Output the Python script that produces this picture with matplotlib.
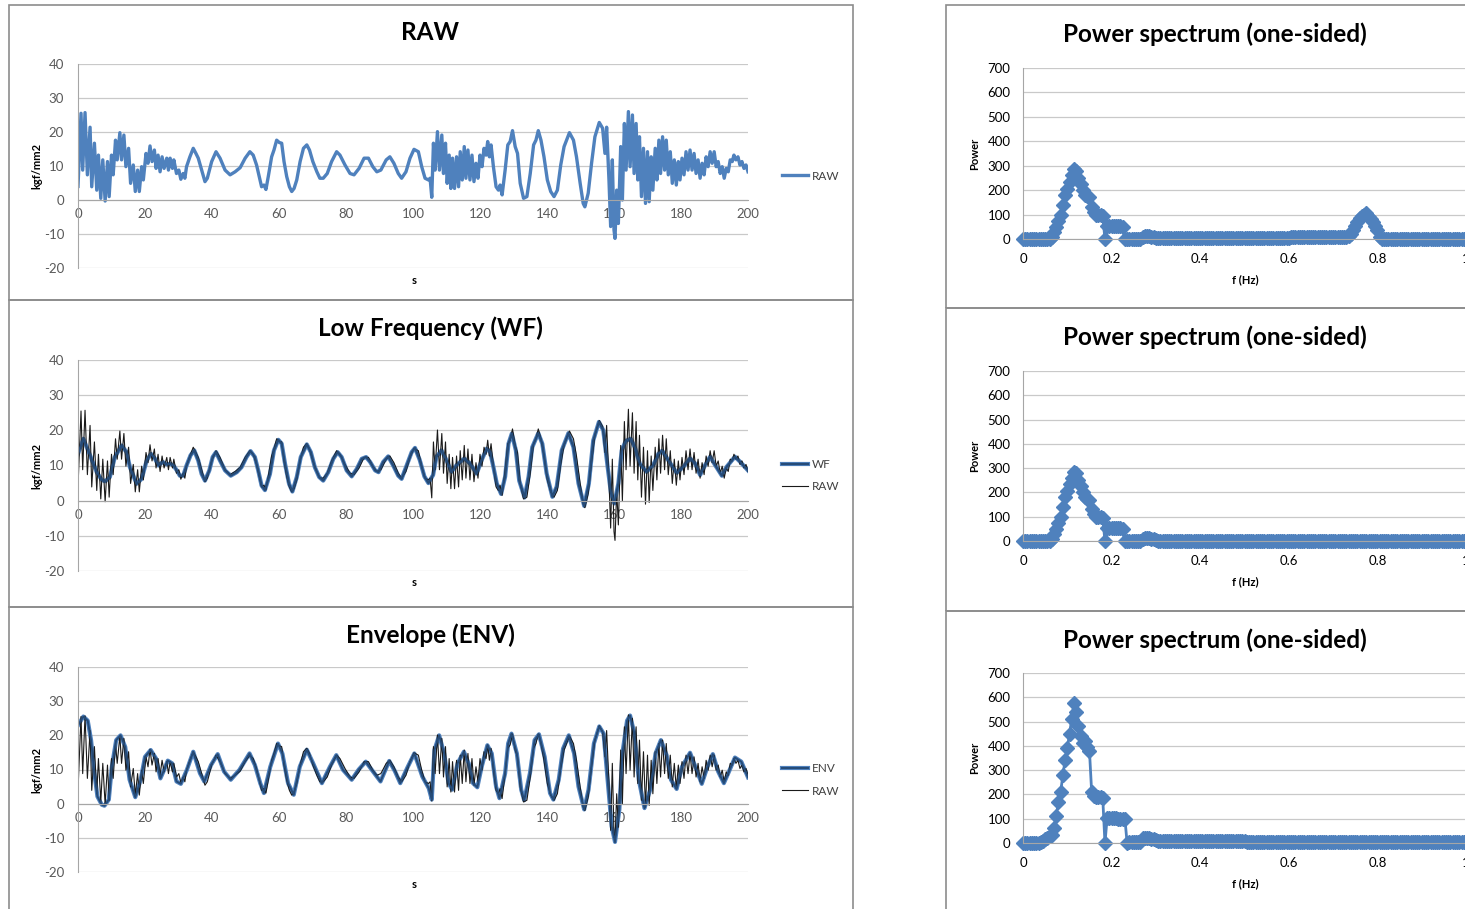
import numpy as np
import matplotlib.pyplot as plt
from matplotlib.patches import Rectangle

plt.rcParams['font.family'] = ['Lato', 'DejaVu Sans']
plt.rcParams['axes.unicode_minus'] = False

W, H = 1465, 909

# ---- time series (s, kgf/mm2) ----
raw_t = [0, 0.9, 1.4, 2.1, 2.8, 3.6, 4.1, 4.9, 5.6, 6.1, 6.8, 7.4, 8.1, 8.8, 9.3, 10, 10.5, 11.2, 11.7,
         12.5, 13, 13.7, 14.3, 15.1, 15.7, 16.5, 17.1, 17.8, 18.3, 19, 19.5, 20.3, 20.9, 21.5, 22.1,
         22.8, 23.3, 23.9, 24.5, 25.1, 25.7, 26.5, 27, 27.5, 28.2, 28.6, 29.4, 30.1, 30.7, 31.4, 31.9,
         32.4, 33.4, 34.4, 35.2, 35.9, 36.9, 37.9, 38.6, 39.9, 41.2, 42.4, 43.9, 45.4, 46.9, 48.4,
         49.9, 51.3, 52.3, 53.3, 54.1, 54.8, 55.5, 56.1, 56.8, 57.8, 58.5, 59.3, 60.1, 60.8, 61.5,
         62.3, 63.1, 63.8, 64.5, 65.3, 66.3, 67.3, 68.3, 69.1, 70.1, 71.3, 72.2, 73.2, 74.4, 75.7,
         77.2, 78.2, 79.7, 81.2, 82.4, 83.9, 85.4, 86.7, 88, 89.2, 90.4, 92, 93.1, 94.3, 95.6, 96.6,
         97.9, 99.1, 100.3, 101.6, 102.6, 103.6, 104.6, 105.1, 105.6, 106.1, 106.6, 107.3, 107.9,
         108.6, 109.1, 109.7, 110.2, 110.8, 111.3, 111.8, 112.4, 113, 113.6, 114.1, 114.7, 115.3,
         115.8, 116.4, 117, 117.6, 118.2, 118.8, 119.4, 120, 120.6, 121.2, 121.8, 122.3, 122.8,
         123.3, 124, 124.8, 125.5, 126, 126.6, 127.5, 128.3, 129, 129.7, 130.5, 131.2, 132, 133,
         134, 135, 136, 136.7, 137.4, 138.2, 139.1, 140.1, 141.1, 142.1, 143.1, 144.1, 145.1, 146.7,
         147.9, 148.8, 149.9, 150.8, 151.3, 152.3, 153.3, 154.3, 155.6, 156.6, 157.3, 157.8, 158.5,
         159, 159.5, 160, 160.3, 160.8, 161.3, 162, 162.5, 163.1, 163.6, 164.3, 164.8, 165.5, 166,
         166.6, 167.1, 167.6, 168.2, 168.8, 169.4, 170, 170.5, 171.1, 171.6, 172.3, 172.8, 173.4,
         173.9, 174.5, 175.1, 175.6, 176.2, 176.8, 177.4, 178, 178.6, 179.2, 179.7, 180.3, 180.9,
         181.5, 182.1, 182.7, 183.3, 183.9, 184.5, 185.1, 185.7, 186.3, 186.9, 187.5, 188.1, 188.7,
         189.3, 189.9, 190.5, 191.1, 191.7, 192.3, 192.9, 193.5, 194.1, 194.7, 195.3, 195.8, 196.4,
         197, 197.6, 198.2, 198.8, 199.4, 200]
raw_v = [4, 25.5, 8.8, 25.7, 7.4, 21.4, 3.9, 16.7, 2.9, 13.2, 0.5, 11.8, -0.3, 11.3, 1, 13.2, 7.4, 17.6, 11.8,
         19.8, 11.8, 19.1, 9.8, 15.2, 4.9, 10.3, 2.5, 8.8, 2.5, 9.8, 5.9, 13.7, 10.8, 15.9, 11.3,
         14.7, 9.3, 13.2, 8.3, 12.7, 9.3, 12.3, 8.8, 12.3, 9.3, 11.8, 7.8, 8.8, 6.1, 7.8, 6.4,
         9.8, 12.7, 15.2, 13.7, 12.3, 8.8, 5.4, 6.4, 11.3, 14.2, 12.3, 8.8, 7.4, 8.3, 9.5,
         12.3, 14.2, 13.2, 10.3, 6.9, 3.9, 4.4, 3.1, 6.9, 12.7, 14.7, 17.6, 16.9, 16.7, 11.3,
         6.9, 3.9, 2.5, 3.4, 5.9, 11.3, 15.2, 16.2, 14.7, 11.3, 8.3, 6.4, 6.4, 7.8, 11.3,
         14.2, 13.2, 10.3, 7.8, 7.4, 9.3, 12.3, 12.3, 9.8, 8.3, 8.8, 11.8, 12.7, 10.8, 7.8, 6.4,
         8.3, 12.3, 14.9, 14.2, 9.8, 6.4, 5.9, 6.4, 0.8, 16.7, 8.8, 20.1, 8.8,
         19.1, 7.8, 16.7, 4.9, 13.2, 3.4, 12.3, 3.4, 12.7, 3.9, 14.2, 5.9, 15.7,
         6.4, 14.7, 5.9, 13.2, 5.4, 10.8, 6.4, 13.2, 9.8, 15.2, 13.2, 17.2, 12.7,
         16.2, 9.8, 3.9, 2.9, 4.4, 1.5, 8.8, 16.2, 17.2, 20.4, 15.7, 13.7, 4.9, 0.5,
         1, 7.8, 16.2, 17.6, 20.4, 17.6, 12.7, 5.9, 2.5, 1, 2.9, 10.3, 15.7, 19.8,
         17.6, 12.7, 4.9, -1, -2, 2, 10.8, 18.6, 22.8, 21.1, 13.7, 21.4, 5.9,
         -7.8, 11.8, -8.8, -11.3, 2.9, -6.9, 15.7, 0, 22.5, 8.8, 26, 9.8, 25, 7.8,
         22.5, 5.9, 18.6, 1, 15.2, -1, 14.2, -0.5, 12.7, 2.9, 15.2, 5.9, 17.6,
         7.8, 18.6, 8.8, 17.6, 7.4, 14.2, 4.9, 11.8, 4.4, 11.3, 5.9, 12.3, 7.4,
         14.2, 8.8, 14.7, 8.8, 13.7, 7.8, 11.8, 6.4, 10.8, 7.4, 12.7, 9.8, 14.2,
         10.8, 14.2, 9.8, 11.3, 7.8, 9.8, 6.4, 9.3, 8.3, 11.8, 11.3, 13.2, 11.8,
         12.7, 10.3, 11.3, 9.3, 10.3, 8.3]

wf_t = [0, 1.6, 3.6, 5.6, 7.1, 8.1, 9.5, 11, 13, 14.5, 15.5, 17.5, 19, 20.5, 21.8, 23, 24, 25.3, 26.5,
        27.5, 28.5, 29.5, 30.4, 31.4, 32.4, 33.6, 34.7, 35.9, 36.9, 37.9, 39.2, 40.2, 41.2, 42.4, 43.9,
        45.6, 47.4, 48.8, 50.3, 51.5, 52.8, 53.8, 54.8, 55.8, 57.3, 58.5, 59.8, 60.8, 61.8, 63, 64,
        65.3, 66.5, 68.3, 69.5, 70.7, 72, 73.2, 74.7, 76.2, 77.5, 78.7, 80.2, 81.7, 83.2, 84.7, 86,
        87.2, 88.7, 89.7, 91.1, 92.6, 94.1, 95.6, 96.6, 98.1, 99.6, 100.6, 102, 103.4, 104.6, 106,
        107, 108.5, 110, 111.5, 113, 115.3, 117, 119, 120.7, 122, 123, 124, 125, 126.3, 127.5, 128.5,
        129.5, 130.7, 131.7, 133.3, 134.5, 135.6, 137.4, 138.6, 139.9, 141.6, 142.9, 144.4, 146.4,
        147.9, 149.4, 151.1, 152.5, 153.8, 155.5, 156.8, 158.1, 159.1, 160.1, 161.3, 162.3, 163.5,
        165, 166.2, 167.7, 169.7, 171.7, 173.3, 174.4, 176.2, 178.7, 180.7, 182.7, 184.2, 185.7,
        187.2, 188.7, 190.2, 192.2, 193.6, 196.1, 197.6, 200]
wf_v = [13.3, 17.6, 12.9, 8.1, 5.9, 5.5, 6.7, 12.4, 15.7, 13.8, 9.5, 4.8, 6.2, 11.4, 13.3, 11.9, 10, 11, 10.3,
        10.5, 10, 8.6, 7.1, 7.1, 10, 12.9, 14.3, 11.4, 7.6, 5.7, 8.6, 12.4, 13.8, 11.4, 8.6,
        7.1, 8.1, 9.5, 12.4, 14.1, 12.4, 8.6, 4.3, 3, 7.6, 14.3, 17.3, 16.2, 10.5, 4.8, 2.6,
        6.7, 12.4, 16, 13.8, 9.5, 6.7, 5.7, 8.1, 11.9, 13.8, 12.4, 8.6, 6.9, 9, 11.9, 12.4,
        11, 8.6, 8.1, 11, 12.6, 10, 7.1, 6.2, 10, 13.8, 15, 11.6, 6.9, 5, 7.3,
        12.5, 14.3, 11.5, 8.2, 10.1, 12, 10.6, 7.7, 12, 14.8, 13.9, 9.6, 4.9, 1.9, 6.8, 16.2,
        19.1, 14.3, 5.7, 0.9, 6.8, 15.2, 19.2, 16.2, 7.7, 1.1, 4, 14.3, 19.2,
        15.2, 4.9, -1.5, 4.9, 17.1, 22.4, 20, 9.6, 2.1, -0.8, 4.9, 14.3, 17,
        17.6, 15.2, 10.5, 8.2, 10.1, 13.4, 14.2, 11.5, 7.9, 9.6, 12, 10.6, 7.3,
        10.1, 12.5, 10.1, 7.1, 9.6, 12.5, 11.1, 8.6]

env_t = [0, 1.6, 2.9, 3.9, 4.9, 5.8, 7.1, 7.9, 9.2, 10.1, 11.4, 12.7, 14.1, 15.4, 17.1, 18.7, 20, 21.7,
         23.3, 24.6, 25.5, 26.8, 28.1, 29.4, 30.7, 32.5, 34.4, 36.4, 37.7, 39.7, 41.7, 43.6, 45.6, 48.2,
         51.2, 52.8, 54.4, 55.5, 57.4, 59.7, 61, 62.7, 64.4, 66.2, 68.3, 70.2, 72.8, 75.2, 77.1, 79.1,
         81.7, 83.8, 85.9, 88, 90.3, 92.9, 94.6, 96.2, 98.3, 100.4, 102.8, 104.7, 105.6, 106.4, 107.8,
         109.3, 110.6, 111.7, 113.3, 115.2, 116.6, 117.9, 119.2, 120.5, 122.2, 123.5, 124.8, 125.8,
         127.5, 128.4, 129.4, 131, 132.3, 133.2, 134.9, 136.3, 137.6, 139.3, 140.9, 141.9, 143.5,
         144.8, 146.5, 148.1, 149.4, 151.1, 152.4, 154, 155.6, 156.9, 158.2, 159.3, 160.3, 161.6,
         162.5, 163.9, 164.8, 166.1, 167.4, 169.1, 170.8, 172.4, 174, 175.7, 177, 178.7, 180.3, 182.7,
         184.3, 186.2, 187.9, 189.5, 191.1, 192.8, 194.1, 196.1, 198, 200]
env_v = [22.9, 25.5, 24.3, 18.6, 8.9, 2.1, -0.3, -0.6, 1.2, 10.8, 18.6, 20, 16.6, 7, 1.9, 7, 13.7, 15.7,
         13.2, 7.4, 9.4, 12.6, 11.8, 6.5, 5.8, 9.9, 15.2, 8.9, 6.5, 11.3, 14.5, 9.4, 7, 9.9,
         14.7, 11.3, 6, 3.1, 10.8, 17.6, 14.7, 6, 2.6, 10.8, 15.8, 11.8, 6, 10.8, 14.2, 9.9,
         7, 10, 12.3, 9.5, 6.5, 12.5, 9.5, 6, 10.5, 14.7, 7.9, 4.5, 1.2, 15.7, 20,
         14.7, 6, 4.1, 11.8, 15.2, 11.8, 6, 4.8, 10.8, 17.1, 14.7, 5, 1.6,
         8.9, 17.6, 20.5, 14.7, 4.1, 1, 8.9, 18.6, 20.3, 13.7, 3.1, 1.2, 7,
         16.1, 20, 14.7, 5, -1.7, 4.1, 17.6, 22.6, 20.5, 6, -6.6, -11.2, -1.7,
         14.7, 24.3, 25.8, 20.5, 7, -1.3, 4.1, 14.7, 18.6, 14.2, 7, 4.3, 10.8, 14.9,
         10.8, 5.8, 10.8, 14.5, 9.4, 6, 8.9, 13.5, 12.3, 7.7]

# ---- one-sided power spectra, 0.005 Hz bins from 0 to 1.05 Hz ----
freq = np.round(np.arange(211) * 0.005, 3)
low_band = ([0] * 13 +
            [10, 30, 50, 75, 100, 140, 180, 205, 235, 260, 285, 280, 250, 225, 200, 180, 175,
             170, 130, 110, 100, 100, 100, 95, 0, 55, 55, 55, 55, 55, 55, 55, 50, 0] +
            [2] * 7 + [10, 12, 12, 12, 10, 8, 5])
power_raw = (low_band + [3] * 60 + [7] * 26 +
             [12, 20, 35, 55, 70, 85, 95, 100, 105, 90, 80, 70, 55, 35, 10] + [1] * 49)
power_wf = low_band + [2] * 150
power_env = ([0] * 8 +
             [5, 10, 15, 20, 30, 35, 60, 110, 170, 210, 280, 340, 390, 450, 510, 575, 540, 480,
              440, 410, 420, 395, 380, 210, 195, 190, 190, 190, 185, 0, 105, 105, 105, 105, 105,
              100, 100, 100, 100, 0] +
             [5] * 6 + [20, 22, 22, 20, 18, 15, 12] + [10] * 40 + [5] * 60 + [3] * 50)

BLUE = '#4F81BD'
NAVY = '#254B78'
GRID = '#C9C9C9'
AXIS = '#A6A6A6'

fig = plt.figure(figsize=(W / 100, H / 100), dpi=100)


def px_axes(x0, y0, x1, y1):
    return fig.add_axes([x0 / W, 1 - y1 / H, (x1 - x0) / W, (y1 - y0) / H])


def frame(x0, y0, x1, y1):
    fig.patches.append(Rectangle((x0 / W, 1 - y1 / H), (x1 - x0) / W, (y1 - y0) / H,
                                 transform=fig.transFigure, fill=False, ec='#8C8C8C', lw=1.2))


def ftext(x, y, s, **kw):
    fig.text(x / W, 1 - y / H, s, ha='center', va='center', **kw)


def time_axes(y_top, y_bot, title, title_y):
    ax = px_axes(78, y_top, 748, y_bot)
    ax.set_xlim(0, 200)
    ax.set_ylim(-20, 40)
    ax.set_xticks(range(0, 201, 20))
    ax.set_yticks(range(-20, 41, 10))
    ax.grid(axis='y', color=GRID, lw=0.9)
    ax.set_axisbelow(True)
    for s in ('top', 'right'):
        ax.spines[s].set_visible(False)
    ax.spines['bottom'].set_position(('data', 0))
    for s in ('bottom', 'left'):
        ax.spines[s].set_color(AXIS)
    ax.tick_params(axis='x', length=0, labelsize=9.5, labelcolor='#595959', pad=6)
    ax.tick_params(axis='y', length=0, labelsize=9.5, labelcolor='#595959', pad=10)
    ftext(430, title_y, title, fontsize=17.5, fontweight='bold')
    ftext(37, (y_top + y_bot) / 2, 'kgf/mm2', fontsize=8, fontweight='bold', rotation=90)
    ftext(414, y_bot + 12, 's', fontsize=8, fontweight='bold')
    return ax


def spec_axes(y_top, y_bot, title_y, power):
    ax = px_axes(1023, y_top, 1023 + 1.05 * 443, y_bot)
    ax.plot(freq, power, '-D', color=BLUE, lw=2, ms=7.5, mec=BLUE, clip_on=False)
    ax.set_xlim(0, 1.05)
    ax.set_ylim(0, 700)
    ax.set_xticks([0, 0.2, 0.4, 0.6, 0.8, 1.0])
    ax.set_xticklabels(['0', '0.2', '0.4', '0.6', '0.8', '1'])
    ax.set_yticks(range(0, 701, 100))
    ax.grid(axis='y', color=GRID, lw=0.9)
    ax.set_axisbelow(True)
    for s in ('top', 'right'):
        ax.spines[s].set_visible(False)
    for s in ('bottom', 'left'):
        ax.spines[s].set_color(AXIS)
    ax.tick_params(axis='x', length=0, labelsize=9.5, pad=10)
    ax.tick_params(axis='y', length=0, labelsize=9.5, pad=9)
    ftext(1215, title_y, 'Power spectrum (one-sided)', fontsize=17.5, fontweight='bold')
    ftext(975, (y_top + y_bot) / 2, 'Power', fontsize=8, fontweight='bold', rotation=90)
    ftext(1245, y_bot + 41, 'f (Hz)', fontsize=8, fontweight='bold')
    return ax


def legend(ax, handles, labels, x, y):
    ax.legend(handles, labels, loc='center left', bbox_to_anchor=(x / W, 1 - y / H),
              bbox_transform=fig.transFigure, frameon=False, fontsize=8.5, borderpad=0,
              borderaxespad=0, handlelength=2.2, handletextpad=0.3, labelspacing=0.95,
              labelcolor='#404040')


# frames
frame(9, 5, 853, 300)
frame(9, 300, 853, 607)
frame(9, 607, 853, 915)
frame(946, 5, 1475, 308)
frame(946, 308, 1475, 611)
frame(946, 611, 1475, 915)

# RAW
ax1 = time_axes(64, 268, 'RAW', 32)
l_raw, = ax1.plot(raw_t, raw_v, color=BLUE, lw=2.4)
legend(ax1, [l_raw], ['RAW'], 782, 176)

# Low frequency
ax2 = time_axes(360, 571, 'Low Frequency (WF)', 328)
l_wf_out, = ax2.plot(wf_t, wf_v, color=BLUE, lw=3.0)
l_raw2, = ax2.plot(raw_t, raw_v, color='#1a1a1a', lw=0.8)
l_wf_in, = ax2.plot(wf_t, wf_v, color=NAVY, lw=1.6)
legend(ax2, [(l_wf_out, l_wf_in), l_raw2], ['WF', 'RAW'], 782, 475.5)

# Envelope
ax3 = time_axes(667, 872, 'Envelope (ENV)', 635)
l_env_out, = ax3.plot(env_t, env_v, color=BLUE, lw=3.0)
l_raw3, = ax3.plot(raw_t, raw_v, color='#1a1a1a', lw=0.8)
l_env_in, = ax3.plot(env_t, env_v, color=NAVY, lw=1.4)
legend(ax3, [(l_env_out, l_env_in), l_raw3], ['ENV', 'RAW'], 782, 780)

# spectra
spec_axes(68, 239, 34, power_raw)
spec_axes(371, 541, 337, power_wf)
spec_axes(673, 843, 640, power_env)

fig.savefig('out.png', dpi=100)
